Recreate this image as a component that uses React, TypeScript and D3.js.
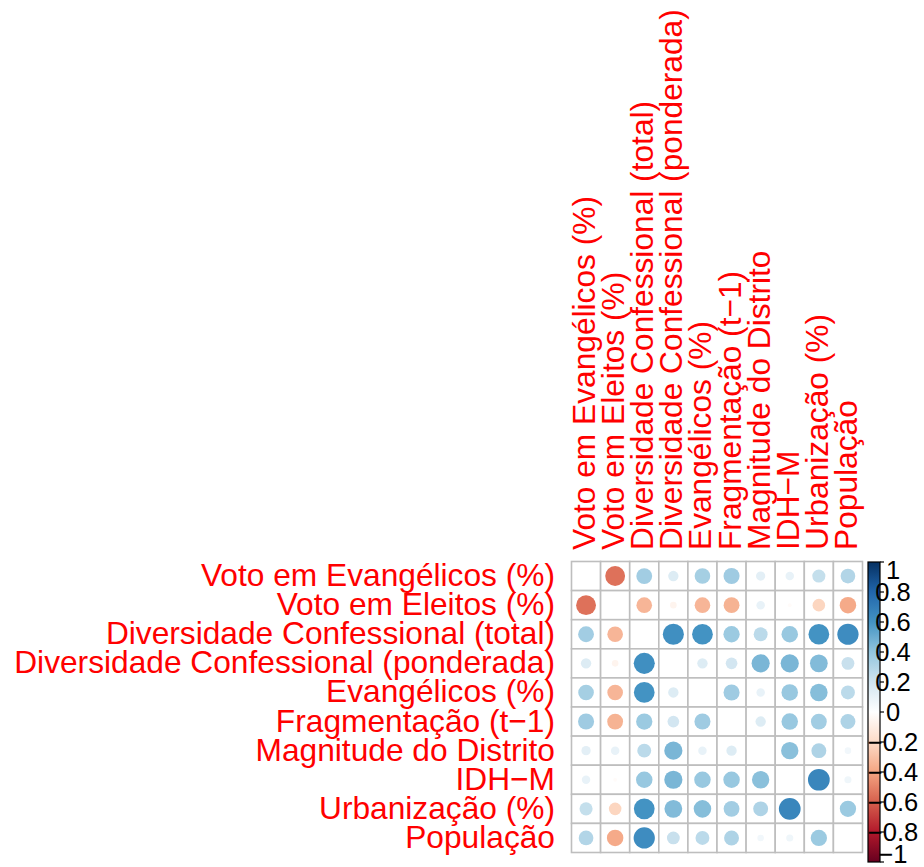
import React from 'react'
import * as d3 from 'd3'

// variable names (rows and columns, same order)
const variables = [
  'Voto em Evangélicos (%)',
  'Voto em Eleitos (%)',
  'Diversidade Confessional (total)',
  'Diversidade Confessional (ponderada)',
  'Evangélicos (%)',
  'Fragmentação (t−1)',
  'Magnitude do Distrito',
  'IDH−M',
  'Urbanização (%)',
  'População',
]

// correlation rows (diagonal not drawn)
const votoEvangelicos = [1, -0.55, 0.35, 0.15, 0.34, 0.36, 0.12, 0.1, 0.24, 0.3]
const votoEleitos = [-0.55, 1, -0.34, -0.06, -0.34, -0.35, 0.1, -0.02, -0.22, -0.38]
const divTotal = [0.35, -0.34, 1, 0.62, 0.6, 0.37, 0.27, 0.38, 0.6, 0.63]
const divPonderada = [0.15, -0.06, 0.62, 1, 0.15, 0.19, 0.46, 0.46, 0.44, 0.23]
const evangelicos = [0.34, -0.34, 0.6, 0.15, 1, 0.36, 0.1, 0.38, 0.43, 0.27]
const fragmentacao = [0.36, -0.35, 0.37, 0.19, 0.36, 1, 0.15, 0.38, 0.35, 0.31]
const magnitude = [0.12, 0.1, 0.27, 0.46, 0.1, 0.15, 1, 0.42, 0.31, 0.06]
const idh = [0.1, -0.02, 0.38, 0.46, 0.38, 0.38, 0.42, 1, 0.66, 0.07]
const urbanizacao = [0.24, -0.22, 0.6, 0.44, 0.43, 0.35, 0.31, 0.66, 1, 0.37]
const populacao = [0.3, -0.38, 0.63, 0.23, 0.27, 0.31, 0.06, 0.07, 0.37, 1]

const corr = [votoEvangelicos, votoEleitos, divTotal, divPonderada, evangelicos,
  fragmentacao, magnitude, idh, urbanizacao, populacao]

const legendTicks = [1, 0.8, 0.6, 0.4, 0.2, 0, -0.2, -0.4, -0.6, -0.8, -1]

// corrplot RdBu palette, -1 -> 1
const palette = ['#67001F', '#B2182B', '#D6604D', '#F4A582', '#FDDBC7', '#FFFFFF',
  '#D1E5F0', '#92C5DE', '#4393C3', '#2166AC', '#053061']

const W = 924
const H = 867
const gridLeft = 571.5
const gridTop = 561.5
const gridSize = 291
const fontSize = 31.7

const fmt = (v: number) => (v < 0 ? '\u2212' : '') + String(Math.abs(v))

export default function App() {
  const x = d3.scaleBand<number>().domain(d3.range(variables.length)).range([gridLeft, gridLeft + gridSize])
  const y = d3.scaleBand<number>().domain(d3.range(variables.length)).range([gridTop, gridTop + gridSize])
  const cell = x.bandwidth()
  const color = d3.scaleLinear<string>()
    .domain(palette.map((_, i) => -1 + i * 0.2))
    .range(palette)
    .interpolate(d3.interpolateRgb)
  // corrplot circles: radius ~ sqrt(|r|)
  const rad = d3.scaleSqrt().domain([0, 1]).range([0, cell * 0.46])

  const barX = 868
  const barW = 12
  const ly = d3.scaleLinear().domain([1, -1]).range([562, 862])

  return (
    <svg width={W} height={H} style={{ position: 'absolute', left: 0, top: 0, background: '#fff' }}
      fontFamily="'Liberation Sans', Arial, Helvetica, sans-serif">
      <defs>
        <linearGradient id="lg" x1="0" y1="1" x2="0" y2="0">
          {palette.map((c, i) => (
            <stop key={i} offset={i / (palette.length - 1)} stopColor={c} />
          ))}
        </linearGradient>
      </defs>

      {/* cells */}
      <g>
        {corr.map((row, i) => row.map((v, j) => (
          <rect key={`c${i}-${j}`} x={x(j)} y={y(i)} width={cell} height={cell}
            fill="#fff" stroke="#bebebe" strokeWidth={1.6} />
        )))}
      </g>
      <g>
        {corr.map((row, i) => row.map((v, j) => i === j ? null : (
          <circle key={`p${i}-${j}`} cx={x(j)! + cell / 2} cy={y(i)! + cell / 2}
            r={rad(Math.abs(v))} fill={color(v)} />
        )))}
      </g>

      {/* row labels */}
      <g fill="#ff0000" fontSize={fontSize} textAnchor="end">
        {variables.map((name, i) => (
          <text key={name} x={555} y={y(i)! + cell / 2 + 10}>{name}</text>
        ))}
      </g>

      {/* column labels */}
      <g fill="#ff0000" fontSize={fontSize}>
        {variables.map((name, j) => (
          <text key={name} transform={`translate(${x(j)! + cell / 2 + 9},550) rotate(-90)`}>{name}</text>
        ))}
      </g>

      {/* colour legend */}
      <rect x={barX} y={ly(1)} width={barW} height={ly(-1) - ly(1)} fill="url(#lg)" stroke="#000" strokeWidth={1.2} />
      <g stroke="#000" strokeWidth={1.2}>
        {legendTicks.map(t => (
          <line key={t} x1={barX + barW} x2={barX + barW + 4} y1={ly(t)} y2={ly(t)} />
        ))}
      </g>
      <g fontSize={25.5} textAnchor="middle" fill="#000">
        {legendTicks.map((t, k) => {
          const shift = k === 0 ? 8 : k === legendTicks.length - 1 ? -8 : 0
          return (
            <text key={t} x={893} y={ly(t) + shift} dy="0.35em">{fmt(t)}</text>
          )
        })}
      </g>
    </svg>
  )
}
